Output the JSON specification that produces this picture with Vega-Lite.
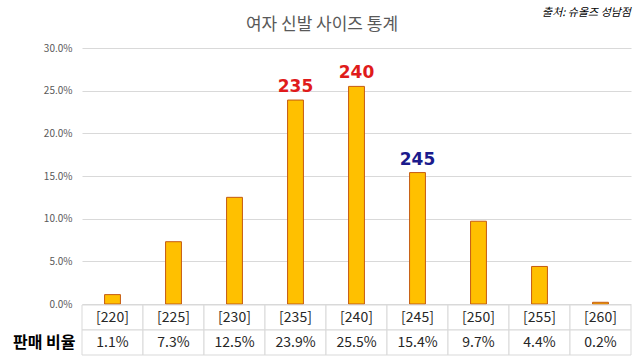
{
  "$schema": "https://vega.github.io/schema/vega-lite/v6.json",
  "padding": {"left": 12, "top": 7, "right": 9, "bottom": 2},
  "background": "white",
  "bounds": "flush",
  "title": {"text": "여자 신발 사이즈 통계", "font": "Noto Sans CJK KR", "fontSize": 17, "fontWeight": "normal", "color": "#595959", "anchor": "middle", "offset": -27},
  "config": {"view": {"stroke": null}, "concat": {"spacing": 1}},
  "datasets": {
    "sizes": [
      {"size": "[220]", "ratio": 0.011, "pct": "1.1%", "label": ""},
      {"size": "[225]", "ratio": 0.073, "pct": "7.3%", "label": ""},
      {"size": "[230]", "ratio": 0.125, "pct": "12.5%", "label": ""},
      {"size": "[235]", "ratio": 0.239, "pct": "23.9%", "label": "235"},
      {"size": "[240]", "ratio": 0.255, "pct": "25.5%", "label": "240"},
      {"size": "[245]", "ratio": 0.154, "pct": "15.4%", "label": "245"},
      {"size": "[250]", "ratio": 0.097, "pct": "9.7%", "label": ""},
      {"size": "[255]", "ratio": 0.044, "pct": "4.4%", "label": ""},
      {"size": "[260]", "ratio": 0.002, "pct": "0.2%", "label": ""}
    ]
  },
  "vconcat": [
    {
      "width": 549,
      "height": 256,
      "data": {"name": "sizes"},
      "title": {"text": "출처: 슈올즈 성남점", "anchor": "end", "font": "Noto Sans CJK KR", "fontSize": 11, "fontStyle": "italic", "fontWeight": "normal", "color": "#000000", "offset": 25},
      "encoding": {
        "x": {"field": "size", "type": "nominal", "sort": null, "axis": null, "scale": {"paddingInner": 0.74, "paddingOuter": 0.37}},
        "y": {"field": "ratio", "type": "quantitative", "scale": {"domain": [0, 0.3]},
          "axis": {"title": null, "format": ".1%", "values": [0, 0.05, 0.1, 0.15, 0.2, 0.25, 0.3], "domain": false, "ticks": false, "labelPadding": 10, "labelFont": "Noto Sans CJK KR", "labelFontSize": 10, "labelColor": "#595959", "gridColor": "#d9d9d9", "gridWidth": 1}}
      },
      "layer": [
        {"mark": {"type": "bar", "fill": "#FFC000", "stroke": "#C55A11", "strokeWidth": 1}},
        {
          "transform": [{"filter": "datum.label != ''"}],
          "mark": {"type": "text", "baseline": "bottom", "dy": -4, "font": "DejaVu Sans", "fontWeight": "bold", "fontSize": 17},
          "encoding": {
            "text": {"field": "label"},
            "color": {"field": "label", "type": "nominal", "scale": {"domain": ["235", "240", "245"], "range": ["#E01B1B", "#E01B1B", "#1B1B8C"]}, "legend": null}
          }
        }
      ]
    },
    {
      "width": 549,
      "height": 50,
      "data": {"name": "sizes"},
      "transform": [{"fold": ["size", "pct"], "as": ["row", "cell"]}],
      "encoding": {
        "x": {"field": "size", "type": "nominal", "sort": null, "axis": null, "scale": {"paddingInner": 0, "paddingOuter": 0}},
        "y": {"field": "row", "type": "nominal", "scale": {"domain": ["size", "pct"], "paddingInner": 0, "paddingOuter": 0},
          "axis": {"title": null, "labelExpr": "datum.value == 'pct' ? '판매 비율' : ''", "domain": false, "ticks": false, "labelPadding": 7, "labelFont": "Noto Sans CJK KR", "labelFontSize": 16, "labelFontWeight": "bold", "labelColor": "#000000"}}
      },
      "layer": [
        {"mark": {"type": "rect", "fill": "white", "stroke": "#d9d9d9", "strokeWidth": 1}},
        {"mark": {"type": "text", "font": "Noto Sans CJK KR", "fontSize": 14, "color": "#262626"}, "encoding": {"text": {"field": "cell"}}}
      ]
    }
  ]
}
